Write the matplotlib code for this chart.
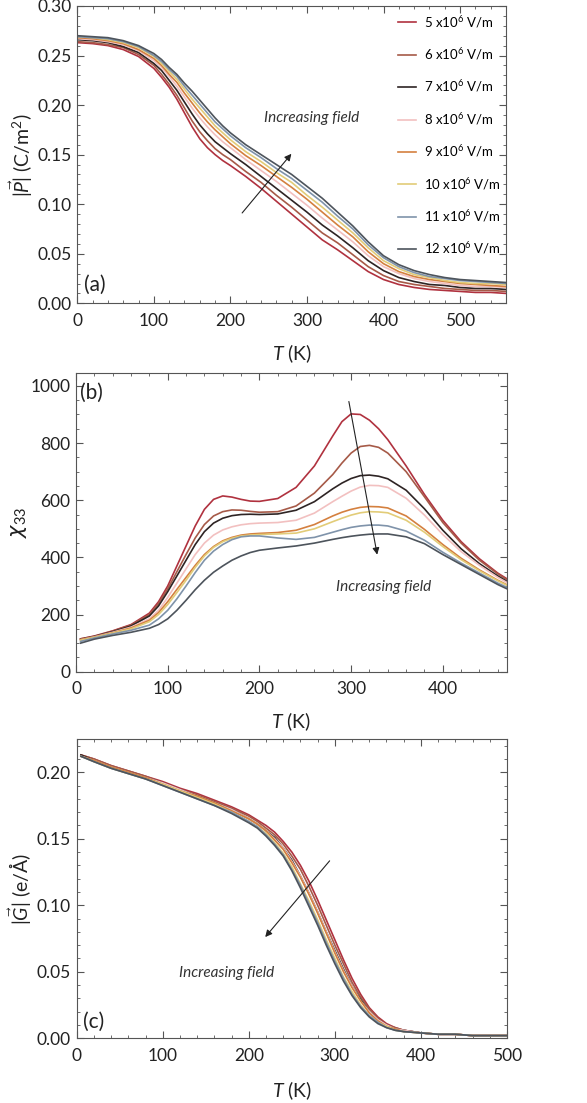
import numpy as np
import matplotlib
matplotlib.use('Agg')
import matplotlib.pyplot as plt
from matplotlib.ticker import MultipleLocator, FormatStrFormatter

plt.rcParams['font.family'] = ['Lato', 'DejaVu Sans']
plt.rcParams['mathtext.fontset'] = 'custom'
plt.rcParams['mathtext.rm'] = 'Lato'
plt.rcParams['mathtext.it'] = 'Lato:italic'

# field strengths (x10^6 V/m) and line colours
fields = [5, 6, 7, 8, 9, 10, 11, 12]
colors = ['#b0323f', '#a65a48', '#2e2424', '#f2c0c0',
          '#d4803f', '#e2cc78', '#7f93aa', '#4d545c']

# (a) polarisation |P| (C/m^2)
T_a = [0, 20, 40, 60, 80, 100, 110, 120, 130, 140, 150, 160, 170, 180, 190,
       200, 220, 240, 260, 280, 300, 320, 340, 360, 380, 400, 420, 440, 460,
       480, 500, 520, 540, 560]
P_5 = [.263, .262, .260, .256, .249, .237, .228, .218, .206, .192, .178, .166,
       .157, .150, .144, .139, .128, .116, .103, .090, .077, .064, .054, .043,
       .032, .024, .019, .016, .014, .013, .012, .011, .011, .010]
P_6 = [.264, .263, .261, .258, .251, .240, .231, .221, .210, .197, .184, .173,
       .164, .156, .150, .145, .133, .122, .109, .097, .084, .071, .061, .049,
       .037, .028, .022, .019, .017, .015, .014, .013, .013, .012]
P_7 = [.266, .265, .263, .259, .253, .242, .235, .225, .215, .203, .191, .180,
       .171, .163, .157, .151, .140, .128, .116, .104, .092, .079, .068, .056,
       .043, .033, .026, .022, .019, .018, .016, .015, .015, .014]
P_8 = [.267, .266, .264, .261, .255, .245, .238, .229, .219, .208, .197, .187,
       .178, .170, .163, .157, .145, .134, .123, .111, .099, .086, .074, .062,
       .048, .037, .030, .025, .022, .020, .018, .017, .017, .016]
P_9 = [.268, .267, .265, .262, .256, .247, .240, .231, .223, .212, .202, .192,
       .183, .175, .168, .161, .149, .139, .128, .117, .105, .092, .079, .067,
       .052, .040, .032, .027, .024, .022, .020, .019, .018, .017]
P_10 = [.269, .268, .266, .263, .258, .249, .242, .234, .226, .216, .206, .197,
        .188, .179, .172, .165, .153, .143, .132, .122, .109, .097, .084, .071,
        .056, .043, .035, .029, .026, .023, .021, .020, .020, .019]
P_11 = [.269, .268, .267, .264, .259, .250, .244, .236, .229, .219, .210, .201,
        .192, .183, .176, .169, .157, .147, .136, .126, .114, .102, .088, .075,
        .059, .046, .037, .031, .027, .025, .023, .022, .021, .020]
P_12 = [.270, .269, .268, .265, .260, .252, .246, .238, .231, .222, .214, .205,
        .196, .187, .179, .172, .160, .150, .140, .130, .118, .106, .092, .078,
        .062, .048, .039, .033, .029, .026, .024, .023, .022, .021]

# (b) dielectric susceptibility chi_33
T_b = [5, 20, 40, 60, 80, 90, 100, 110, 120, 130, 140, 150, 160, 170, 180,
       190, 200, 220, 240, 260, 280, 290, 300, 310, 320, 330, 340, 360, 380,
       400, 420, 440, 460, 470]
chi_5 = [115, 125, 143, 165, 205, 245, 300, 370, 440, 510, 568, 603, 615, 611,
         603, 597, 596, 606, 645, 720, 825, 875, 902, 900, 880, 850, 812, 720,
         620, 530, 455, 395, 345, 325]
chi_6 = [115, 124, 142, 163, 200, 238, 290, 350, 410, 468, 515, 545, 560, 566,
         565, 561, 558, 560, 580, 625, 690, 730, 765, 788, 792, 785, 765, 700,
         612, 522, 450, 390, 342, 322]
chi_7 = [113, 123, 140, 160, 195, 230, 280, 335, 390, 445, 490, 520, 537, 546,
         550, 551, 550, 552, 565, 595, 640, 660, 676, 686, 688, 684, 675, 635,
         570, 495, 430, 378, 335, 316]
chi_8 = [112, 122, 138, 156, 185, 215, 260, 310, 360, 410, 450, 478, 496, 507,
         514, 518, 520, 522, 530, 555, 595, 614, 632, 646, 652, 651, 645, 607,
         548, 480, 420, 372, 330, 312]
chi_9 = [112, 121, 136, 153, 180, 207, 245, 288, 330, 372, 410, 438, 458, 470,
         478, 482, 484, 487, 495, 515, 545, 558, 568, 575, 578, 577, 573, 545,
         498, 445, 397, 356, 320, 304]
chi_10 = [110, 120, 135, 150, 175, 200, 235, 277, 320, 365, 405, 435, 455, 467,
          475, 478, 480, 482, 485, 500, 525, 537, 548, 556, 560, 559, 556, 530,
          488, 438, 392, 353, 318, 302]
chi_11 = [106, 118, 132, 145, 163, 185, 215, 255, 300, 347, 390, 422, 445, 462,
          472, 475, 475, 468, 463, 470, 488, 497, 505, 510, 513, 513, 510, 492,
          460, 418, 380, 345, 310, 295]
chi_12 = [100, 114, 127, 138, 152, 165, 185, 215, 250, 287, 320, 348, 370, 390,
          405, 417, 425, 433, 440, 450, 463, 469, 474, 478, 481, 482, 482, 472,
          448, 410, 375, 340, 305, 290]

# (c) order parameter |G| (e/A)
T_c = [5, 20, 40, 60, 80, 100, 120, 140, 160, 180, 200, 210, 220, 230, 240,
       250, 260, 270, 280, 290, 300, 310, 320, 330, 340, 350, 360, 370, 380,
       400, 420, 440, 460, 480, 500]
G_5 = [.213, .210, .205, .201, .197, .193, .188, .184, .179, .174, .168, .164,
       .160, .155, .148, .140, .130, .118, .104, .089, .074, .059, .045, .033,
       .023, .016, .011, .008, .006, .004, .003, .003, .002, .002, .002]
G_6 = [.213, .210, .205, .201, .197, .192, .187, .183, .178, .173, .167, .163,
       .158, .153, .146, .137, .127, .114, .100, .085, .070, .056, .042, .031,
       .022, .015, .010, .008, .006, .004, .003, .003, .002, .002, .002]
G_7 = [.213, .209, .204, .200, .196, .192, .187, .182, .177, .172, .165, .161,
       .156, .151, .143, .134, .122, .109, .095, .080, .066, .052, .039, .029,
       .020, .014, .010, .007, .006, .004, .003, .003, .002, .002, .002]
G_8 = [.212, .209, .204, .200, .196, .192, .187, .182, .177, .172, .165, .161,
       .156, .150, .143, .133, .122, .109, .095, .080, .065, .051, .039, .028,
       .020, .014, .010, .007, .006, .004, .003, .003, .002, .002, .002]
G_9 = [.212, .209, .204, .200, .196, .191, .186, .182, .177, .171, .165, .161,
       .156, .149, .142, .132, .121, .108, .094, .079, .064, .050, .038, .028,
       .019, .013, .009, .007, .005, .004, .003, .003, .002, .002, .002]
G_10 = [.212, .208, .203, .199, .195, .191, .186, .181, .176, .170, .163, .159,
        .154, .147, .139, .129, .116, .103, .089, .074, .060, .046, .035, .025,
        .017, .012, .009, .006, .005, .004, .003, .003, .002, .002, .002]
G_11 = [.212, .208, .203, .199, .195, .190, .185, .180, .175, .170, .163, .159,
        .153, .146, .138, .127, .115, .101, .087, .072, .058, .045, .033, .024,
        .017, .012, .008, .006, .005, .004, .003, .003, .002, .002, .002]
G_12 = [.212, .208, .203, .199, .195, .190, .185, .180, .175, .169, .162, .158,
        .152, .145, .137, .126, .113, .099, .085, .070, .056, .043, .032, .023,
        .016, .011, .008, .006, .005, .004, .003, .003, .002, .002, .002]

P_all = [P_5, P_6, P_7, P_8, P_9, P_10, P_11, P_12]
chi_all = [chi_5, chi_6, chi_7, chi_8, chi_9, chi_10, chi_11, chi_12]
G_all = [G_5, G_6, G_7, G_8, G_9, G_10, G_11, G_12]

fig = plt.figure(figsize=(5.87, 11.03), dpi=100)
ax_a = fig.add_axes([0.1317, 0.7250, 0.7303, 0.2696])
ax_b = fig.add_axes([0.1295, 0.3910, 0.7342, 0.2708])
ax_c = fig.add_axes([0.1306, 0.0587, 0.7331, 0.2713])

frame = '#555555'
ink = '#222222'


def style(ax, xmax, ymax, xmaj, xmin, ymaj, ymin):
    ax.set_xlim(0, xmax)
    ax.set_ylim(0, ymax)
    ax.xaxis.set_major_locator(MultipleLocator(xmaj))
    ax.xaxis.set_minor_locator(MultipleLocator(xmin))
    ax.yaxis.set_major_locator(MultipleLocator(ymaj))
    ax.yaxis.set_minor_locator(MultipleLocator(ymin))
    ax.tick_params(which='both', direction='in', top=True, right=True,
                   color=frame, labelsize=12.5, labelcolor=ink)
    ax.tick_params(axis='x', which='major', pad=7)
    ax.tick_params(axis='y', which='major', pad=4)
    ax.tick_params(which='major', length=5, width=0.8)
    ax.tick_params(which='minor', length=2.5, width=0.6)
    for s in ax.spines.values():
        s.set_color(frame)
        s.set_linewidth(0.8)
    ax.set_xlabel('$T$ (K)', fontsize=14, color=ink)


# panel (a)
for vals, c, f in zip(P_all, colors, fields):
    ax_a.plot(T_a, vals, color=c, lw=1.2, label=f'{f} x10$^6$ V/m')
style(ax_a, 560, 0.30, 100, 20, 0.05, 0.01)
ax_a.yaxis.set_major_formatter(FormatStrFormatter('%.2f'))
ax_a.set_ylabel(r'$|\vec{P}|$ (C/m$^2$)', fontsize=14, color=ink)
ax_a.yaxis.set_label_coords(-0.098, 0.5)
ax_a.xaxis.set_label_coords(0.5, -0.13)
ax_a.legend(loc='upper right', bbox_to_anchor=(1.01, 1.005), frameon=False,
            fontsize=9.5, handlelength=1.4, handletextpad=0.6,
            labelspacing=1.25, borderaxespad=0.3)
ax_a.annotate('', xy=(282, 0.153), xytext=(213, 0.089),
              arrowprops=dict(arrowstyle='-|>', color=ink, lw=0.8,
                              mutation_scale=10))
ax_a.text(306, 0.187, 'Increasing field', style='italic', fontsize=11,
          ha='center', va='center', color='#333333')
ax_a.text(23, 0.019, '(a)', fontsize=15, ha='center', va='center', color=ink)

# panel (b)
for vals, c in zip(chi_all, colors):
    ax_b.plot(T_b, vals, color=c, lw=1.2)
style(ax_b, 470, 1045, 100, 20, 200, 50)
ax_b.set_ylabel('χ$_{33}$', fontsize=15, color=ink, style='italic',
                family='DejaVu Sans')
ax_b.yaxis.set_label_coords(-0.108, 0.5)
ax_b.xaxis.set_label_coords(0.5, -0.128)
ax_b.annotate('', xy=(329, 400), xytext=(297, 955),
              arrowprops=dict(arrowstyle='-|>', color=ink, lw=0.8,
                              mutation_scale=10))
ax_b.text(335, 297, 'Increasing field', style='italic', fontsize=11,
          ha='center', va='center', color='#333333')
ax_b.text(17, 975, '(b)', fontsize=15, ha='center', va='center', color=ink)

# panel (c)
for vals, c in zip(G_all, colors):
    ax_c.plot(T_c, vals, color=c, lw=1.2)
style(ax_c, 500, 0.225, 100, 20, 0.05, 0.01)
ax_c.yaxis.set_major_formatter(FormatStrFormatter('%.2f'))
ax_c.set_ylabel(r'$|\vec{G}|$ (e/Å)', fontsize=14, color=ink)
ax_c.yaxis.set_label_coords(-0.098, 0.5)
ax_c.xaxis.set_label_coords(0.5, -0.136)
ax_c.annotate('', xy=(217, 0.0745), xytext=(296, 0.135),
              arrowprops=dict(arrowstyle='-|>', color=ink, lw=0.8,
                              mutation_scale=10))
ax_c.text(174, 0.049, 'Increasing field', style='italic', fontsize=11,
          ha='center', va='center', color='#333333')
ax_c.text(20, 0.012, '(c)', fontsize=15, ha='center', va='center', color=ink)

fig.savefig('out.png', dpi=100)
